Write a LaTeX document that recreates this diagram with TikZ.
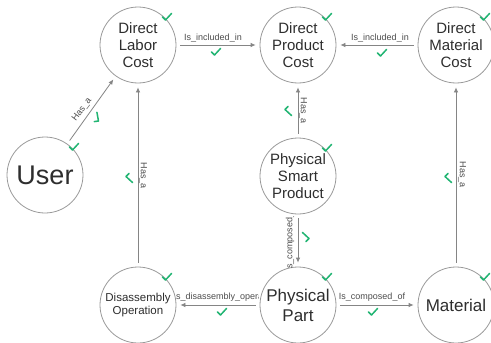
\documentclass[tikz,border=0pt]{standalone}
\usepackage{fontspec}
\setmainfont{Liberation Sans}
\usetikzlibrary{arrows.meta}
\definecolor{circgray}{HTML}{9A9A9A}
\definecolor{linegray}{HTML}{858585}
\definecolor{txtgray}{HTML}{2E2E2E}
\definecolor{chkgreen}{HTML}{22B573}
\tikzset{
  ent/.style={circle, draw=circgray, line width=0.8pt, fill=white, minimum size=76pt, inner sep=0pt, align=center, text=txtgray, font=\fontsize{15}{17}\selectfont},
  rel/.style={draw=linegray, line width=0.8pt, -{Latex[length=5pt,width=4.5pt]}, shorten >=4pt, shorten <=4pt},
  lab/.style={font=\fontsize{9}{10}\selectfont, text=txtgray!85, inner sep=0pt},
  chk/.pic={\draw[chkgreen, line width=1.5pt, line cap=round, line join=round] (-4.5,0) -- (-1.5,3) -- (4.5,-3.5);}
}
\begin{document}
\begin{tikzpicture}[x=1pt,y=-1pt]
\path[use as bounding box, fill=white] (0,0) rectangle (491,343);
\clip (0,0) rectangle (491,343);
% nodes
\node[ent] (dlc) at (138,45) {Direct\\Labor\\Cost};
\node[ent] (dpc) at (298,45) {Direct\\Product\\Cost};
\node[ent] (dmc) at (456,45) {Direct\\Material\\Cost};
\node[ent, font=\fontsize{27}{30}\selectfont] (user) at (45,175) {User};
\node[ent] (psp) at (298,176) {Physical\\Smart\\Product};
\node[ent, font=\fontsize{11.5}{13.5}\selectfont] (dop) at (138,305) {Disassembly\\Operation};
\node[ent, font=\fontsize{17}{20}\selectfont] (pp) at (298,305) {Physical\\Part};
\node[ent, font=\fontsize{17}{20}\selectfont] (mat) at (456,305) {Material};
% node checks
\foreach \n in {dlc,dpc,dmc,user,psp,dop,pp,mat}{
  \pic at ([shift={(29,-28)}]\n.center) {chk};
}
% connectors
\draw[rel] (user) -- (dlc);
\draw[rel] (dlc) -- (dpc);
\draw[rel] (dmc) -- (dpc);
\draw[rel] (psp) -- (dpc);
\draw[rel] (dop) -- (dlc);
\draw[rel] (mat) -- (dmc);
\draw[rel] (psp) -- (pp);
\draw[rel] (pp) -- (dop);
\draw[rel] (pp) -- (mat);
% labels
\node[lab, rotate=53] (l1) at (82,110) {Has\_a};
\pic[rotate=53] at (97,118) {chk};
\node[lab] (l2) at (213,38) {Is\_included\_in};
\pic at (216,52) {chk};
\node[lab] (l3) at (380,38) {Is\_included\_in};
\pic at (382,53) {chk};
\node[lab, rotate=-90] (l4) at (303,111) {Has\_a};
\pic[rotate=-90] at (288,111) {chk};
\node[lab, rotate=-90] (l5) at (143,176) {Has\_a};
\pic[rotate=-90] at (129,178) {chk};
\node[lab, rotate=-90] (l6) at (462,175) {Has\_a};
\pic[rotate=-90] at (448,178) {chk};
\begin{scope}
  \clip (280,216) rectangle (296,267);
  \node[lab, rotate=90] (l7) at (290,238) {Is\_composed\_of};
\end{scope}
\pic[rotate=90] at (306,237) {chk};
\begin{scope}
  \clip (176,288) rectangle (258,302);
  \node[lab, anchor=base west] (l8) at (173.5,299.5) {Is\_disassembly\_operation};
\end{scope}
\pic at (222,312) {chk};
\node[lab] (l9) at (372,297) {Is\_composed\_of};
\pic at (373,312) {chk};
\end{tikzpicture}
\end{document}
